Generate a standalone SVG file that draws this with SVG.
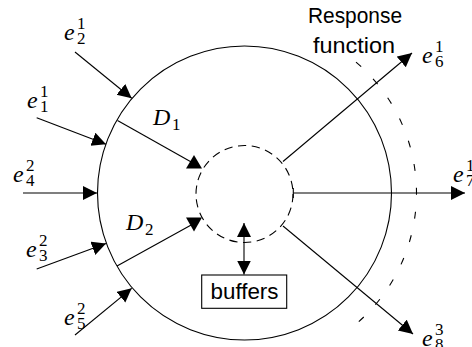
<svg xmlns="http://www.w3.org/2000/svg" width="472" height="347" viewBox="0 0 472 347">
<style>
.ln{fill:none;stroke:#000;stroke-width:1.1}
.dc{fill:none;stroke:#000;stroke-width:1.1;stroke-dasharray:8.3 5.55}
.da{fill:none;stroke:#000;stroke-width:1.1;stroke-dasharray:7 16.92}
.m{font-family:"Liberation Serif",serif;font-style:italic;font-size:24px;fill:#000}
.s{font-family:"Liberation Serif",serif;font-size:17px;fill:#000}
.t{font-family:"Liberation Sans",Arial,sans-serif;font-size:22px;fill:#000}
.ah{fill:#000;stroke:none}
</style>
<defs>
<marker id="arr" markerUnits="userSpaceOnUse" markerWidth="15" markerHeight="15" refX="14" refY="7" orient="auto-start-reverse" viewBox="0 0 15 15">
<path d="M0,0 L14,7 L0,14 Z" fill="#000"/>
</marker>
</defs>
<g id="outer-circle"><circle class="ln" cx="244.5" cy="193" r="147"/></g>
<g id="core"><circle class="dc" cx="244.5" cy="194" r="48.5"/></g>
<g id="response-function">
<path class="da" d="M356.0,62.1 A172,172 0 0 1 358.8,321.6"/>
<text class="t" x="308" y="23" textLength="94" lengthAdjust="spacingAndGlyphs">Response</text>
<text class="t" x="313" y="53" textLength="82" lengthAdjust="spacingAndGlyphs">function</text>
</g>
<g id="buffers">
<rect class="ln" x="201.7" y="275" width="85" height="33.3" fill="#fff"/>
<text class="t" x="210.5" y="299" textLength="68" lengthAdjust="spacingAndGlyphs">buffers</text>
</g>
<g id="connectors">
<line class="ln" x1="75" y1="52" x2="131.7" y2="98.3" marker-end="url(#arr)"/>
<line class="ln" x1="36.7" y1="117.7" x2="106" y2="144.3" marker-end="url(#arr)"/>
<line class="ln" x1="23" y1="193" x2="97" y2="193" marker-end="url(#arr)"/>
<line class="ln" x1="36.7" y1="269" x2="106" y2="243.5" marker-end="url(#arr)"/>
<line class="ln" x1="75" y1="335" x2="131.7" y2="288.3" marker-end="url(#arr)"/>
<line class="ln" x1="117.5" y1="120.5" x2="193" y2="163"/>
<polygon class="ah" points="186,168.5 202,168.5 194,155"/>
<line class="ln" x1="117" y1="266" x2="193" y2="224"/>
<polygon class="ah" points="186,217.5 202,217.5 194,231.5"/>
<line class="ln" x1="244" y1="223" x2="244" y2="274.5" marker-start="url(#arr)" marker-end="url(#arr)"/>
<line class="ln" x1="283" y1="161.5" x2="412" y2="53" marker-end="url(#arr)"/>
<line class="ln" x1="293.3" y1="193" x2="465" y2="193" marker-end="url(#arr)"/>
<line class="ln" x1="293.3" y1="188" x2="293.3" y2="198"/>
<line class="ln" x1="283" y1="226" x2="413" y2="334" marker-end="url(#arr)"/>
</g>
<g id="labels">
<text class="m" x="64" y="40">e</text><text class="s" x="77" y="29">1</text><text class="s" x="77" y="44">2</text>
<text class="m" x="27" y="108">e</text><text class="s" x="40" y="97">1</text><text class="s" x="40" y="112">1</text>
<text class="m" x="13" y="182">e</text><text class="s" x="26" y="171">2</text><text class="s" x="26" y="186">4</text>
<text class="m" x="26" y="257">e</text><text class="s" x="39" y="246">2</text><text class="s" x="39" y="261">3</text>
<text class="m" x="64" y="325">e</text><text class="s" x="77" y="314">2</text><text class="s" x="77" y="329">5</text>
<text class="m" x="422" y="63">e</text><text class="s" x="435" y="52">1</text><text class="s" x="435" y="67">6</text>
<text class="m" x="453" y="182">e</text><text class="s" x="466" y="171">1</text><text class="s" x="466" y="186">7</text>
<text class="m" x="422" y="346">e</text><text class="s" x="435" y="335">3</text><text class="s" x="435" y="350">8</text>
<text class="m" x="153" y="125">D</text><text class="s" x="172" y="130">1</text>
<text class="m" x="126" y="230">D</text><text class="s" x="145" y="235">2</text>
</g>
</svg>
